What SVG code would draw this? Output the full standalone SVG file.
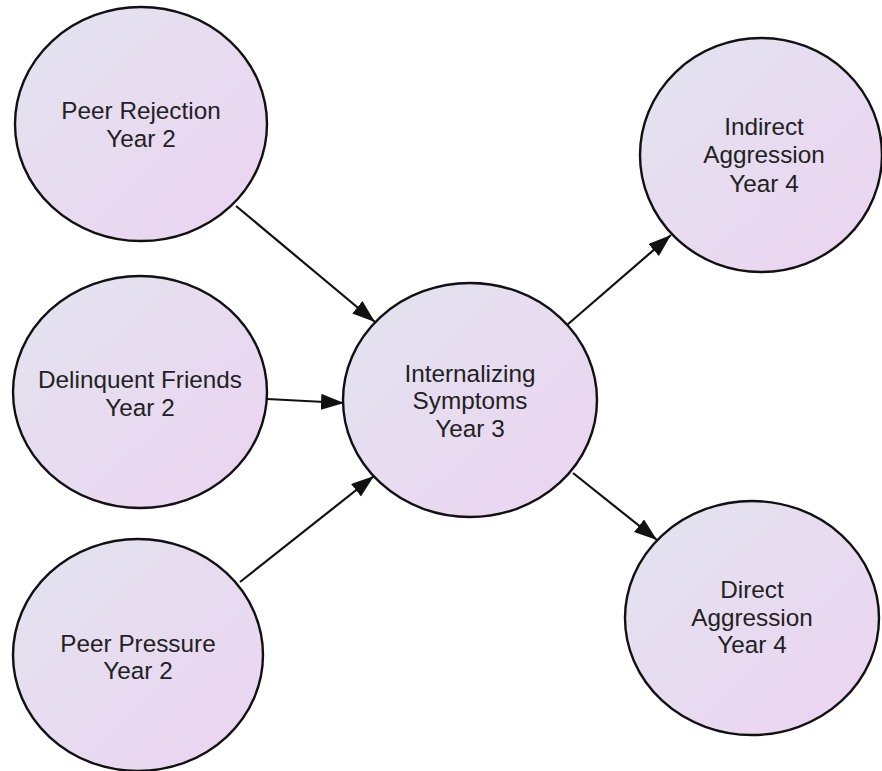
<svg xmlns="http://www.w3.org/2000/svg" width="882" height="771" viewBox="0 0 882 771">
<style>
.node ellipse{fill:url(#g);stroke:#111;stroke-width:2.4}
.node text{font-family:"Liberation Sans",Arial,sans-serif;font-size:24.3px;fill:#222;text-anchor:middle}
.edge{stroke:#111;stroke-width:2.2;fill:none;marker-end:url(#ah)}
</style>
<defs>
<linearGradient id="g" x1="0" y1="0" x2="1" y2="1">
<stop offset="0" stop-color="#e2e4ef"/>
<stop offset="1" stop-color="#ecd3f1"/>
</linearGradient>
<marker id="ah" markerUnits="userSpaceOnUse" markerWidth="26" markerHeight="18" refX="23" refY="8" orient="auto">
<path d="M0,0 L23,8 L0,16 Z" fill="#111"/>
</marker>
</defs>
<rect width="882" height="771" fill="#fff"/>
<g id="connectors">
<line class="edge" x1="236" y1="206" x2="375" y2="322"/>
<line class="edge" x1="267" y1="399" x2="344" y2="403"/>
<line class="edge" x1="240" y1="582" x2="374" y2="476"/>
<line class="edge" x1="567" y1="325" x2="671" y2="235"/>
<line class="edge" x1="573" y1="473" x2="657" y2="540"/>
</g>
<g id="peer-rejection" class="node">
<ellipse cx="141" cy="124" rx="126" ry="117"/>
<text x="141" y="119">Peer Rejection</text>
<text x="141" y="147">Year 2</text>
</g>
<g id="delinquent-friends" class="node">
<ellipse cx="140" cy="392" rx="127" ry="116"/>
<text x="140" y="388">Delinquent Friends</text>
<text x="140" y="416">Year 2</text>
</g>
<g id="peer-pressure" class="node">
<ellipse cx="138" cy="655" rx="125" ry="116"/>
<text x="138" y="652">Peer Pressure</text>
<text x="138" y="679">Year 2</text>
</g>
<g id="internalizing" class="node">
<ellipse cx="470" cy="400" rx="127" ry="117"/>
<text x="470" y="382">Internalizing</text>
<text x="470" y="409">Symptoms</text>
<text x="470" y="437">Year 3</text>
</g>
<g id="indirect-aggression" class="node">
<ellipse cx="761" cy="155" rx="121" ry="117"/>
<text x="764" y="135">Indirect</text>
<text x="764" y="163">Aggression</text>
<text x="764" y="192">Year 4</text>
</g>
<g id="direct-aggression" class="node">
<ellipse cx="752" cy="618" rx="127" ry="117"/>
<text x="752" y="598">Direct</text>
<text x="752" y="626">Aggression</text>
<text x="752" y="653">Year 4</text>
</g>
</svg>
